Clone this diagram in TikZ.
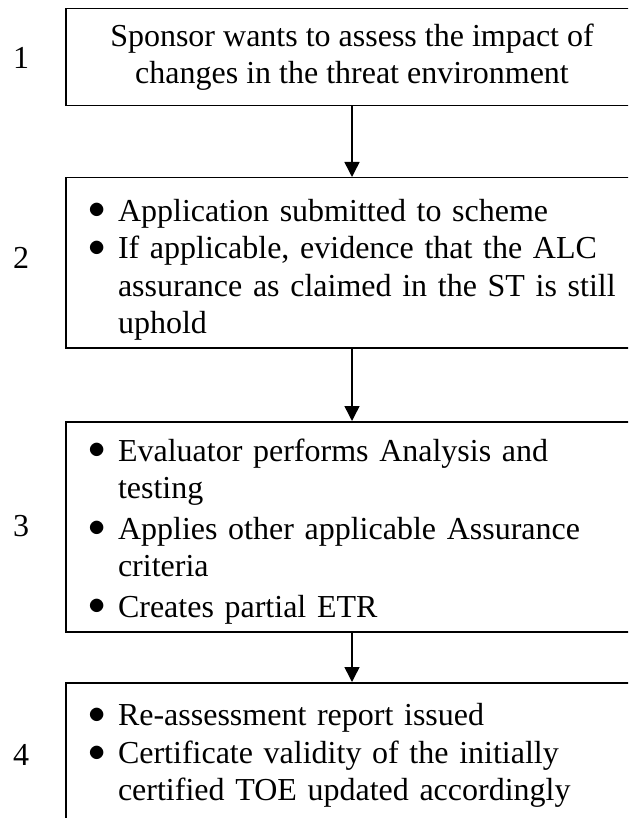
\documentclass[tikz,border=0pt]{standalone}
\usepackage{fontspec}
\setmainfont{Liberation Serif}
\usepackage{tikz}
\usetikzlibrary{arrows.meta}

\newcommand{\bitem}{\makebox[15pt][l]{\raisebox{1.2pt}{$\bullet$}}}
\newcommand{\bcont}{\hspace*{15pt}}

\tikzset{
	stagebox/.style={draw,line width=0.75pt,minimum width=286pt,inner xsep=11pt,
		font=\fontsize{16pt}{18.75pt}\selectfont},
	stagelist/.style={stagebox,align=left,text width=264pt,inner ysep=0pt},
	stagenum/.style={font=\fontsize{16pt}{18.75pt}\selectfont},
	flow/.style={line width=0.75pt,-{Triangle[width=7.5pt,length=7.5pt]}}
}

\begin{document}
\begin{tikzpicture}[x=0.5pt,y=-0.5pt]
		\useasboundingbox (0,0) rectangle (628,818);
		\clip (0,0) rectangle (628,818);
		\coordinate (S1) at (352,8);
		\coordinate (S2) at (352,177);
		\coordinate (S3) at (352,421);
		\coordinate (S4) at (352,682);

		\node[stagebox,align=center,minimum height=48.5pt,anchor=north] (b1) at (S1)
			{Sponsor wants to assess the impact of\\changes in the threat environment};
		\node[stagelist,minimum height=85pt,anchor=north] (b2) at (S2)
			{\rule{0pt}{18pt}\bitem Application submitted to scheme\\
			 \bitem If applicable, evidence that the ALC\\
			 \bcont assurance as claimed in the ST is still\\
			 \bcont uphold};
		\node[stagelist,minimum height=105pt,anchor=north] (b3) at (S3)
			{\rule{0pt}{16pt}\bitem Evaluator performs Analysis and\\
			 \bcont testing\\[1.5pt]
			 \bitem Applies other applicable Assurance\\
			 \bcont criteria\\[1.5pt]
			 \bitem Creates partial ETR};
		\node[stagelist,minimum height=73pt,anchor=north] (b4) at (S4)
			{\bitem Re-assessment report issued\\
			 \bitem Certificate validity of the initially\\
			 \bcont certified TOE updated accordingly};

		\node[stagenum] (n1) at (21,58) {1};
		\node[stagenum] (n2) at (21,258) {2};
		\node[stagenum] (n3) at (21,526) {3};
		\node[stagenum] (n4) at (21,755) {4};

		\foreach \a/\b in {b1/b2,b2/b3,b3/b4}
		\draw[flow] (\a) -- (\b);

	    \end{tikzpicture}
\end{document}
